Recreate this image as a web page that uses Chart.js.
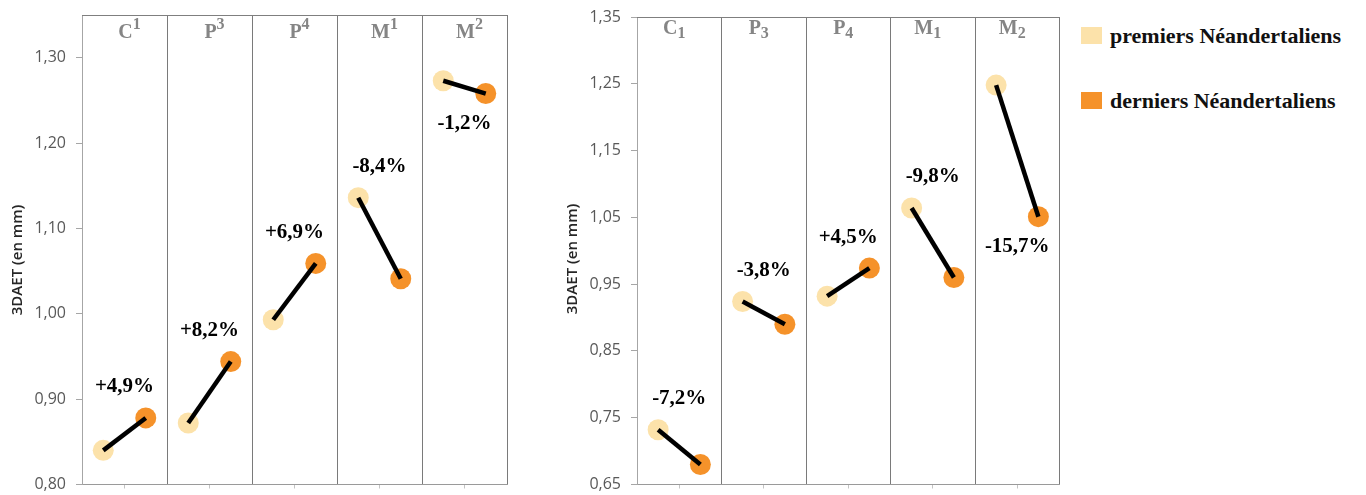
<!DOCTYPE html>
<html>
<head>
<meta charset="utf-8">
<script src="https://cdn.jsdelivr.net/npm/chart.js@4.4.1/dist/chart.umd.min.js"></script>
<style>
html,body{margin:0;padding:0;background:#fff;width:1366px;height:495px;overflow:hidden}
canvas{position:absolute;top:0}
#cl{left:0}
#cr{left:540px}
.sw{position:absolute;left:1081px;width:21px;height:17px}
.lt{position:absolute;left:1110px;font:bold 22px "Liberation Serif",serif;color:#111;white-space:nowrap;line-height:22px}
</style>
</head>
<body>
<canvas id="cl" width="540" height="495"></canvas>
<canvas id="cr" width="530" height="495"></canvas>
<div id="legend"></div>
<script>
// ---------- data ----------
const seriesNames  = ['premiers Néandertaliens', 'derniers Néandertaliens'];
const seriesColors = ['#FCE2AA', '#F5922A'];

const teethUpper    = ['C¹', 'P³', 'P⁴', 'M¹', 'M²'];
const premiersUpper = [0.840, 0.872, 0.993, 1.136, 1.273];
const derniersUpper = [0.878, 0.944, 1.059, 1.041, 1.258];
const changesUpper  = ['+4,9%', '+8,2%', '+6,9%', '-8,4%', '-1,2%'];
const yTicksUpper   = [0.80, 0.90, 1.00, 1.10, 1.20, 1.30];

const teethLower    = ['C₁', 'P₃', 'P₄', 'M₁', 'M₂'];
const premiersLower = [0.732, 0.924, 0.932, 1.064, 1.248];
const derniersLower = [0.680, 0.890, 0.974, 0.960, 1.051];
const changesLower  = ['-7,2%', '-3,8%', '+4,5%', '-9,8%', '-15,7%'];
const yTicksLower   = [0.65, 0.75, 0.85, 0.95, 1.05, 1.15, 1.25, 1.35];

const yTitle = '3DAET (en mm)';

// ---------- helpers ----------
const SUP = {'¹':'1','²':'2','³':'3','⁴':'4'};
const SUB = {'₁':'1','₂':'2','₃':'3','₄':'4'};
const SERIF = '"Liberation Serif", "Times New Roman", serif';

function makeChart(id, d, L) {
  const n = d.teeth.length;
  const datasets = [];
  for (let i = 0; i < n; i++) {
    datasets.push({
      data: [{x: i + 0.25, y: d.premiers[i]}, {x: i + 0.75, y: d.derniers[i]}],
      showLine: true, borderColor: '#000', borderWidth: 4.5, pointRadius: 0,
      borderCapStyle: 'butt', order: 0
    });
  }
  datasets.push({
    label: seriesNames[0],
    data: d.premiers.map((v, i) => ({x: i + 0.25, y: v})),
    pointRadius: 10.5, pointHoverRadius: 10.5, backgroundColor: seriesColors[0], borderWidth: 0, order: 2
  });
  datasets.push({
    label: seriesNames[1],
    data: d.derniers.map((v, i) => ({x: i + 0.75, y: v})),
    pointRadius: 10.5, pointHoverRadius: 10.5, backgroundColor: seriesColors[1], borderWidth: 0, order: 1
  });

  const xTickVals = [];
  for (let k = 0; k <= 2 * n; k++) xTickVals.push(k / 2);
  const isInt = v => Math.abs(v - Math.round(v)) < 1e-9;

  const deco = {
    id: 'deco' + id,
    afterDraw(chart) {
      const ctx = chart.ctx, a = chart.chartArea;
      const xs = chart.scales.x, ys = chart.scales.y;
      ctx.save();
      // top frame line
      ctx.strokeStyle = '#7f7f7f'; ctx.lineWidth = 1;
      ctx.beginPath(); ctx.moveTo(a.left, Math.round(a.top) + 0.5); ctx.lineTo(a.right, Math.round(a.top) + 0.5); ctx.stroke();
      // headers
      for (let i = 0; i < n; i++) {
        const lab = d.teeth[i];
        const base = lab[0], rest = lab.slice(1);
        let idx = '', shift = 0;
        for (const c of rest) {
          if (SUP[c]) { idx += SUP[c]; shift = L.supShift; }
          else if (SUB[c]) { idx += SUB[c]; shift = L.subShift; }
          else idx += c;
        }
        ctx.fillStyle = '#858585';
        ctx.textBaseline = 'alphabetic'; ctx.textAlign = 'left';
        ctx.font = 'bold 20px ' + SERIF;
        const wb = ctx.measureText(base).width;
        ctx.font = 'bold 16px ' + SERIF;
        const wi = ctx.measureText(idx).width;
        const cx = xs.getPixelForValue(i + 0.5) + L.headDx;
        const x0 = cx - (wb + wi) / 2;
        const by = a.top + L.headBase;
        ctx.font = 'bold 20px ' + SERIF;
        ctx.fillText(base, x0, by);
        ctx.font = 'bold 16px ' + SERIF;
        ctx.fillText(idx, x0 + wb, by + shift);
      }
      // change labels
      ctx.fillStyle = '#000';
      ctx.font = 'bold 21px ' + SERIF;
      ctx.textAlign = 'center'; ctx.textBaseline = 'middle';
      for (let i = 0; i < n; i++) {
        const hi = Math.max(d.premiers[i], d.derniers[i]);
        const lo = Math.min(d.premiers[i], d.derniers[i]);
        const yHi = ys.getPixelForValue(hi);
        let y;
        if (yHi - 31 < a.top + 60) y = ys.getPixelForValue(lo) + 30;
        else y = yHi - 31;
        ctx.fillText(d.changes[i], xs.getPixelForValue(i + 0.5), y);
      }
      // y title
      ctx.translate(L.titleX, L.titleY);
      ctx.rotate(-Math.PI / 2);
      ctx.fillStyle = '#262626';
      ctx.font = '600 15px "Open Sans", sans-serif';
      ctx.textAlign = 'center'; ctx.textBaseline = 'middle';
      ctx.fillText(yTitle, 0, 0);
      ctx.restore();
    }
  };

  return new Chart(document.getElementById(id), {
    type: 'scatter',
    data: {datasets},
    options: {
      responsive: false, animation: false, devicePixelRatio: 1,
      layout: {padding: {left: 0, top: L.top, right: L.right, bottom: 0}},
      plugins: {legend: {display: false}, tooltip: {enabled: false}},
      scales: {
        x: {
          type: 'linear', min: 0, max: n,
          afterBuildTicks: s => { s.ticks = xTickVals.map(v => ({value: v})); },
          ticks: {display: false},
          grid: {
            drawOnChartArea: true, drawTicks: true, tickLength: 4, lineWidth: 1,
            color: c => (c.tick && isInt(c.tick.value) && c.tick.value > 0) ? '#7a7a7a' : 'rgba(0,0,0,0)',
            tickColor: c => (c.tick && !isInt(c.tick.value)) ? '#c4c4c4' : 'rgba(0,0,0,0)'
          },
          border: {color: '#9a9a9a', width: 1},
          afterFit: s => { s.height = L.xHeight; s.paddingLeft = 0; s.paddingRight = 0; s.paddingTop = 0; s.paddingBottom = 0; }
        },
        y: {
          type: 'linear', min: d.yMin, max: d.yMax,
          afterBuildTicks: s => { s.ticks = d.yTicks.map(v => ({value: v})); },
          ticks: {
            callback: v => v.toFixed(2).replace('.', ','),
            color: '#595959', font: {family: '"Open Sans", sans-serif', size: 16}, padding: 10
          },
          grid: {drawOnChartArea: false, drawTicks: true, tickLength: 6, tickColor: '#a6a6a6'},
          border: {color: '#a6a6a6', width: 1},
          afterFit: s => { s.width = L.yWidth; s.paddingTop = 0; s.paddingBottom = 0; s.paddingLeft = 0; s.paddingRight = 0; }
        }
      }
    },
    plugins: [deco]
  });
}

makeChart('cl',
  {teeth: teethUpper, premiers: premiersUpper, derniers: derniersUpper, changes: changesUpper,
   yTicks: yTicksUpper, yMin: 0.80, yMax: 1.35},
  {top: 15, right: 33, yWidth: 82, xHeight: 7, headBase: 23, supShift: -9, subShift: 4, headDx: 5,
   titleX: 18, titleY: 260});

makeChart('cr',
  {teeth: teethLower, premiers: premiersLower, derniers: derniersLower, changes: changesLower,
   yTicks: yTicksLower, yMin: 0.65, yMax: 1.35},
  {top: 17, right: 8, yWidth: 97, xHeight: 7, headBase: 17, supShift: -9, subShift: 4, headDx: -5,
   titleX: 33, titleY: 259});

// legend (HTML text)
const leg = document.getElementById('legend');
const legTops = [27, 92];
seriesNames.forEach((name, i) => {
  const sw = document.createElement('div');
  sw.className = 'sw'; sw.style.top = legTops[i] + 'px'; sw.style.background = seriesColors[i];
  leg.appendChild(sw);
  const t = document.createElement('div');
  t.className = 'lt'; t.style.top = (legTops[i] - 2) + 'px'; t.textContent = name;
  leg.appendChild(t);
});
</script>
</body>
</html>
